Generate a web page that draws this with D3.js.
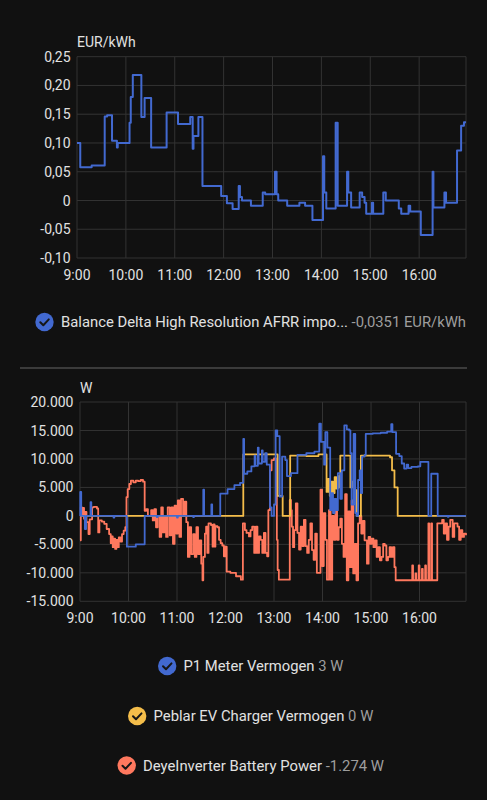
<!DOCTYPE html>
<html><head><meta charset="utf-8">
<script src="https://cdn.jsdelivr.net/npm/d3@7"></script>
<style>
html,body{margin:0;padding:0;background:#111111;}
svg{display:block;font-family:Roboto,"Noto Sans",sans-serif;}
</style></head>
<body><svg id="c" width="487" height="800"></svg>
<script>
// ---- data (minutes after 09:00, value) ----
const hourTicks = [0, 60, 120, 180, 240, 300, 360, 420];
const hourLabels = ["9:00","10:00","11:00","12:00","13:00","14:00","15:00","16:00"];
const endMinute = 477.5;

const priceTicks = [0.25, 0.20, 0.15, 0.10, 0.05, 0, -0.05, -0.10];
const priceTickLabels = ["0,25","0,20","0,15","0,10","0,05","0","-0,05","-0,10"];
const powerTicks = [20000, 15000, 10000, 5000, 0, -5000, -10000, -15000];
const powerTickLabels = ["20.000","15.000","10.000","5.000","0","-5.000","-10.000","-15.000"];

const priceSeries = [[0,0.100],[4,0.058],[18,0.061],[34,0.146],[37,0.148],[43,0.104],[49,0.092],[50,0.100],[64.5,0.135],[66,0.180],[68.5,0.218],[79,0.145],[83,0.178],[91,0.092],[110,0.153],[124,0.133],[139,0.145],[142,0.090],[143,0.112],[149,0.145],[154,0.025],[177,0.008],[184,-0.005],[191,-0.015],[198.5,0.025],[200,0.006],[202.5,0],[213.5,-0.009],[228,0.014],[231,0.011],[243,0.050],[245,0.011],[247,0],[258,-0.009],[273,-0.004],[280,-0.009],[289,-0.034],[302,0.077],[303.5,0.014],[306,-0.014],[317.5,0.135],[320,-0.009],[331.5,0.050],[333,0.014],[336.5,-0.012],[347,0.014],[350,0.006],[353,-0.004],[355,-0.023],[362,-0.004],[363.5,-0.023],[376,0.014],[379,0],[395,-0.014],[398,-0.023],[407,-0.009],[409,-0.019],[422,-0.060],[436.5,0.050],[437.5,-0.012],[451,0.014],[453,-0.004],[466.5,0.087],[471.5,0.130],[475,0.136],[477.5,0.136]];

const p1Series = [[0,0],[0.3,4200],[1.5,0],[6,-2300],[7.5,0],[13,2400],[14,0],[41.5,-300],[42.5,0],[58,-5400],[69,-5000],[80,0],[95,-200],[96,0],[120,-300],[121,0],[140,-200],[141,0],[152.5,4600],[153.5,0],[162.5,2000],[163.5,0],[173.5,3900],[182.5,4700],[191,5400],[198,5800],[202,13500],[203,7400],[207,7800],[212,8700],[216,10600],[217,8800],[220,12000],[221,9200],[225,11500],[226,9500],[229,11000],[231,9000],[235,1500],[237,0],[240,2000],[242,15000],[244,14000],[247,3400],[250,10400],[254,9800],[256,7000],[261,7500],[269,10700],[280,11000],[290,11300],[296,16200],[298,13000],[302,9000],[303.5,14700],[306,12000],[309.5,1000],[311,4000],[313,500],[315,3000],[317,1000],[319,7500],[322,3000],[324,8000],[327,15900],[330,15200],[333,15000],[334.5,11000],[336,2000],[338.5,14400],[340.5,500],[342,0],[344,6300],[346,8000],[347.5,4000],[349,10400],[352,10700],[353.5,14400],[362,14500],[372,14600],[380,14800],[385,16100],[386.5,14700],[391,10900],[395,10500],[398,9200],[401,8300],[404,9000],[406,8400],[410,8600],[418,8700],[421,9500],[431,0],[434.5,7400],[442.5,0],[455,-150],[456,0],[477.5,0]];

const evSeries = [[0,0],[202,10800],[244.5,3500],[250.7,0],[260,10600],[280,10500],[295,10800],[305,4200],[307,6500],[309,3500],[311,6000],[313,4000],[315,6800],[317,4800],[319,7000],[321,5000],[322,10600],[334.5,5000],[337,6000],[339.5,4500],[342.5,0],[347.5,10600],[383.5,10300],[386,8000],[389,5000],[393,0],[477.5,0]];

const batterySeries = [[0,-4300],[1,1500],[2.5,300],[3.5,1400],[5,-500],[6.5,700],[8,-1100],[10.5,-3200],[12,-600],[15,1500],[17,1600],[21,1300],[22.5,-2900],[24,-800],[27,-1000],[30,-1400],[33,-2300],[36,-3200],[38,-4800],[39,-3600],[40.5,-5500],[42,-4000],[43.5,-5800],[45,-4200],[46.5,-5500],[48,-3800],[50,-4500],[52,-3200],[54,-2600],[56,-2000],[57.5,3300],[59,4700],[61,5600],[63,6200],[66,5900],[69,6200],[72,6100],[75,6300],[78,6000],[80,900],[82,1200],[84,0],[88,1000],[90,-800],[92,1200],[94,-2000],[96,0],[98.5,-3700],[100.5,1500],[102.5,-2900],[104.5,0],[106.5,-3700],[108.5,1500],[111,-3400],[113,1500],[115,-4900],[117,1800],[119,-3100],[121,2700],[123,-3700],[125,3000],[127.5,0],[129.5,2500],[131.5,-1100],[133.5,-7200],[135.5,-2000],[137.5,-6700],[140,-3200],[142,-7200],[144,-2000],[146,-6700],[148,-4300],[150,-8400],[151.5,-11300],[152.5,-7200],[154.5,-3100],[156,-1900],[157.5,-6500],[159,-1300],[162,-1600],[164,-5400],[165,-1500],[166.5,-5400],[167.5,-1800],[170,-2000],[172,-4200],[174,-4800],[176,-5200],[178,-7100],[180,-5400],[181.5,-9800],[186,-10000],[193,-10600],[199,-11200],[201.5,-1300],[204,-2500],[206,-3000],[209,-3600],[211,-2500],[213,-1900],[215.5,-6500],[217.5,-1900],[219.5,-6500],[221.5,-3600],[223.5,-4200],[225.5,-6500],[227.5,-3000],[229.5,-6500],[231.5,-7100],[233,1000],[235,8000],[237,9800],[240,10100],[242.5,10000],[243.5,-4200],[244.5,-9500],[246,-11200],[259.5,2800],[261,1000],[262,-1900],[263.5,-5500],[265,-2500],[267,2200],[269,-3000],[271,-5900],[273,-1900],[275,-5300],[277,-700],[279,-5300],[281,-6500],[283,-4200],[285,-1300],[287,-6000],[289,-7700],[291,-3100],[293,-10000],[297.5,4600],[299.5,-8800],[301.5,500],[303.5,-4200],[305.5,-11200],[308,1000],[310,-11200],[312,0],[314,-4200],[316,2700],[318,-4200],[320,-2000],[322,-500],[324,-4900],[326,-7200],[328,3800],[330,-11300],[332,800],[334,-9000],[336,2700],[338,-10100],[340,-4900],[342,-11300],[344,-1300],[346,0],[348,-3100],[350,-900],[352,-4300],[355,-8400],[357,-3700],[359,-4900],[361,-4000],[363,-5500],[365,-4300],[367,-7200],[369,-5500],[371,-7800],[373,-7200],[375,-4900],[377,-5200],[379,-7800],[381,-7200],[383,-5500],[385,-7200],[387,-5500],[389,-9000],[390.5,-11300],[411,-8700],[412,-11300],[415,-10100],[416,-11300],[419,-8700],[420,-11300],[423,-9300],[424,-11300],[427,-8700],[428,-11300],[431,-1300],[432,-11300],[434.5,-1300],[435.5,-11300],[441.5,-11300],[442,-1300],[446,-1300],[448,-700],[450,-3100],[452,-1300],[454,-4200],[456,-1900],[458,-700],[461,-3700],[463,-1300],[465,-1300],[467,-1900],[469,-4200],[471,-2500],[473,-3700],[475,-3100],[477.5,-3400]];

const colors = {blue:"#4269d0", yellow:"#f4bd4a", red:"#ff785e"};

// ---- drawing ----
const svg = d3.select("#c");
const gridColor = "#333333", textColor = "#e1e1e1", mutedColor = "#9e9e9e";

function drawChart(cfg){
  const x = d3.scaleLinear().domain([0, endMinute]).range([cfg.left, cfg.right]);
  const y = d3.scaleLinear().domain([cfg.ticks[cfg.ticks.length-1], cfg.ticks[0]]).range([cfg.bottom, cfg.top]);
  const g = svg.append("g");
  g.selectAll(".hg").data(cfg.ticks).join("line")
    .attr("x1", cfg.left).attr("x2", cfg.right)
    .attr("y1", d=>y(d)).attr("y2", d=>y(d))
    .attr("stroke", gridColor).attr("stroke-width", 1);
  g.selectAll(".vg").data(hourTicks.concat([endMinute])).join("line")
    .attr("x1", d=>x(d)).attr("x2", d=>x(d))
    .attr("y1", cfg.top).attr("y2", cfg.bottom)
    .attr("stroke", gridColor).attr("stroke-width", 1);
  g.selectAll(".yl").data(cfg.ticks).join("text")
    .attr("x", cfg.left - 6.5).attr("y", d=>y(d)).attr("dy","0.36em")
    .attr("text-anchor","end").attr("fill", textColor).attr("font-size", 14)
    .text((d,i)=>cfg.tickLabels[i]);
  g.selectAll(".xl").data(hourTicks).join("text")
    .attr("x", d=>x(d)).attr("y", cfg.bottom + 21.5)
    .attr("text-anchor","middle").attr("fill", textColor).attr("font-size", 14)
    .text((d,i)=>hourLabels[i]);
  g.append("text").attr("x", cfg.left).attr("y", cfg.top - 9.5)
    .attr("fill", textColor).attr("font-size", 14).text(cfg.unit);
  const line = d3.line().x(d=>x(d[0])).y(d=>y(d[1])).curve(d3.curveStepAfter);
  cfg.series.forEach(s=>{
    g.append("path").datum(s.data).attr("d", line)
      .attr("fill","none").attr("stroke", s.color).attr("stroke-width", s.width)
      .attr("stroke-linejoin","round");
  });
}

drawChart({left:77, right:466, top:56.7, bottom:258, ticks:priceTicks, tickLabels:priceTickLabels, unit:"EUR/kWh",
  series:[{data:priceSeries, color:colors.blue, width:2}]});

drawChart({left:80, right:466, top:402, bottom:601.3, ticks:powerTicks, tickLabels:powerTickLabels, unit:"W",
  series:[{data:batterySeries, color:colors.red, width:1.8},{data:evSeries, color:colors.yellow, width:1.8},{data:p1Series, color:colors.blue, width:1.8}]});

svg.append("line").attr("x1",20).attr("x2",467).attr("y1",368).attr("y2",368)
  .attr("stroke","#4a4a4a").attr("stroke-width",1.5);

function checkIcon(g, cx, cy, color){
  g.append("circle").attr("cx",cx).attr("cy",cy).attr("r",9.2).attr("fill",color);
  g.append("path").attr("d",`M${cx-4.2},${cy+0.2} L${cx-1.2},${cy+3.2} L${cx+4.3},${cy-2.6}`)
    .attr("fill","none").attr("stroke","#161616").attr("stroke-width",2).attr("stroke-linecap","round").attr("stroke-linejoin","round");
}

{
  const g = svg.append("g");
  checkIcon(g, 44.5, 322, colors.blue);
  const t = g.append("text").attr("x",61).attr("y",327.3).attr("font-size",15);
  t.append("tspan").attr("fill",textColor).text("Balance Delta High Resolution AFRR impo...");
  t.append("tspan").attr("fill",mutedColor).text(" -0,0351 EUR/kWh");
  const w = t.node().getComputedTextLength();
  if (w > 0) t.attr("textLength", 405).attr("lengthAdjust","spacingAndGlyphs");
}

const legendNames = ["P1 Meter Vermogen","Peblar EV Charger Vermogen","DeyeInverter Battery Power"];
const legendValues = ["3 W","0 W","-1.274 W"];
const legendColors = [colors.blue, colors.yellow, colors.red];
const legendYs = [666, 716, 765.5];
const legendStarts = [158, 128, 117.5];
const legendEnds = [343.3, 373.3, 384];
legendNames.forEach((name,i)=>{
  const g = svg.append("g");
  const t = g.append("text").attr("x", legendStarts[i] + 25.5).attr("y",legendYs[i]+5.3).attr("font-size",15);
  t.append("tspan").attr("fill",textColor).text(name);
  t.append("tspan").attr("fill",mutedColor).text(" " + legendValues[i]);
  t.attr("textLength", legendEnds[i] - legendStarts[i] - 25.5).attr("lengthAdjust","spacingAndGlyphs");
  checkIcon(g, legendStarts[i] + 9.2, legendYs[i], legendColors[i]);
});
</script></body></html>
